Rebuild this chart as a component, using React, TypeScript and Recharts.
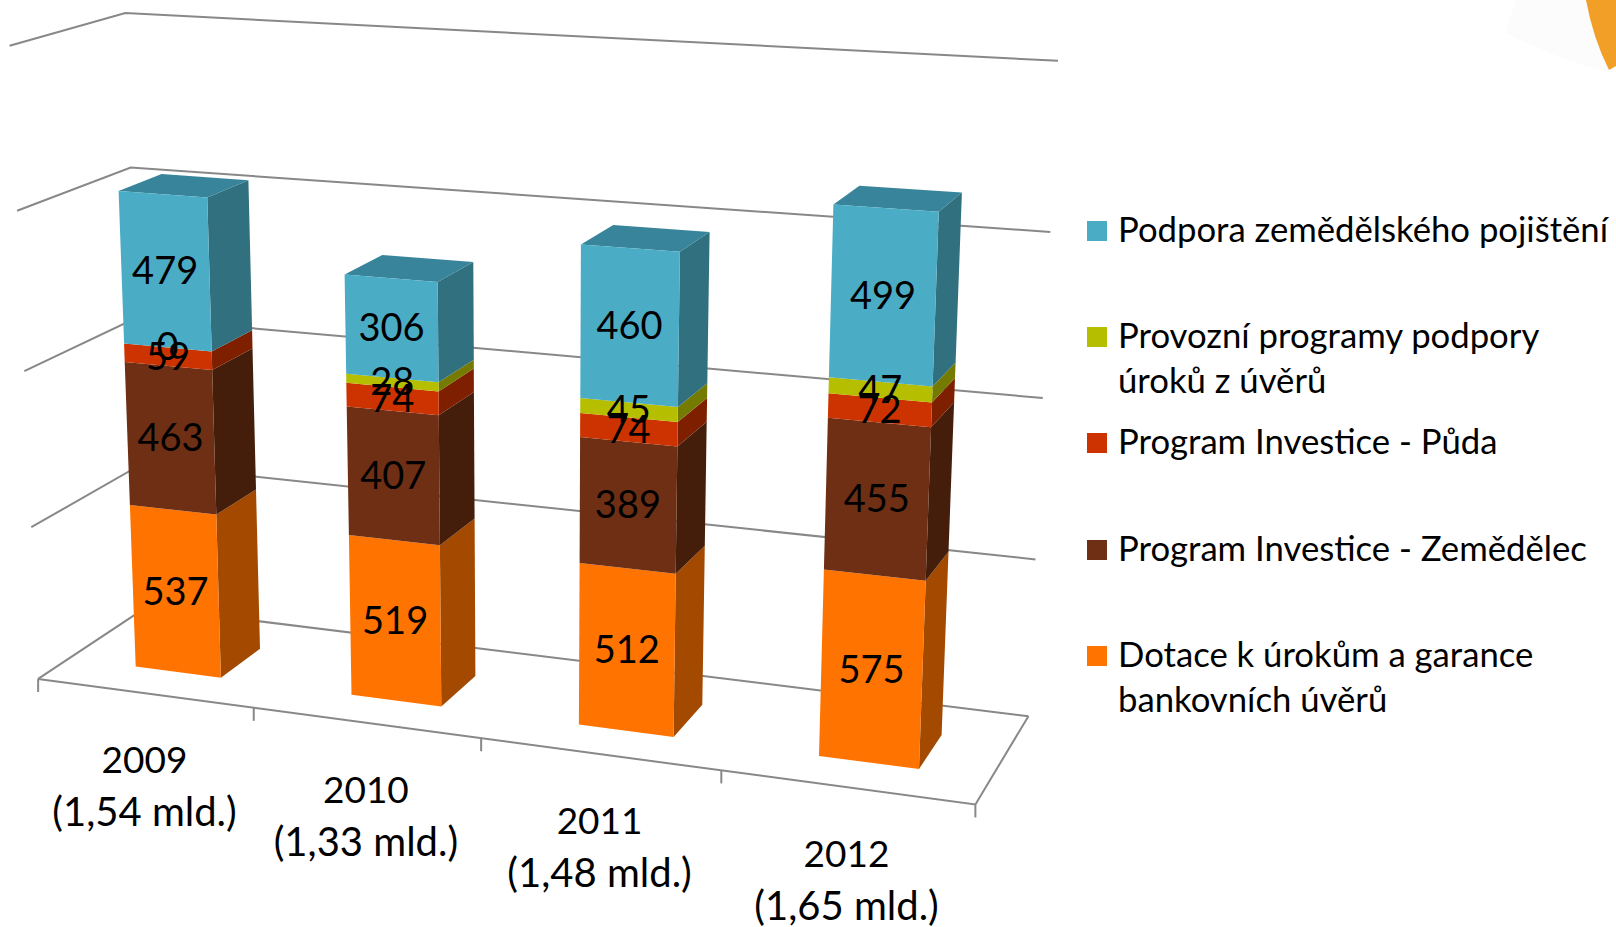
import { BarChart, Bar, XAxis, YAxis, ReferenceLine, Legend, LabelList } from 'recharts';

const WIDTH = 1616;
const HEIGHT = 927;
const FONT = 'Lato, sans-serif';

const categories = ['2009', '2010', '2011', '2012'];
const totals = ['(1,54 mld.)', '(1,33 mld.)', '(1,48 mld.)', '(1,65 mld.)'];

const dotace = [537, 519, 512, 575];
const zemedelec = [463, 407, 389, 455];
const puda = [59, 74, 74, 72];
const provozni = [0, 28, 45, 47];
const pojisteni = [479, 306, 460, 499];

const gridValues = [0, 500, 1000, 1500, 2000];

const data = categories.map((year, i) => ({
  year,
  dotace: dotace[i],
  zemedelec: zemedelec[i],
  puda: puda[i],
  provozni: provozni[i],
  pojisteni: pojisteni[i],
}));

const series = [
  { key: 'dotace', name: 'Dotace k úrokům a garance\nbankovních úvěrů', front: '#ff7300', side: '#a34a00' },
  { key: 'zemedelec', name: 'Program Investice - Zemědělec', front: '#6e2f15', side: '#441e0b' },
  { key: 'puda', name: 'Program Investice - Půda', front: '#cc3300', side: '#7e2000' },
  { key: 'provozni', name: 'Provozní programy podpory\núroků z úvěrů', front: '#b5bf00', side: '#757b00' },
  { key: 'pojisteni', name: 'Podpora zemědělského pojištění', front: '#4bacc6', side: '#31707f', top: '#38859b' },
];

const legendTops = [646, 540, 433, 327, 221];

// The 3D look: (u, v, d) in 0..1 goes to the screen through one projection,
// fitted by least squares to where the box corners sit in the picture.
const calibration: number[][] = [
  [0, 1, 0, 10, 45],
  [0, 1, 1, 126, 13],
  [1, 1, 1, 1057, 61],
  [0, 0, 0, 38, 679],
  [1, 0, 0, 975, 806],
  [1, 0, 1, 1028, 716],
  [0, 0.75, 0, 17, 211],
  [0, 0.75, 1, 130, 168],
  [1, 0.75, 1, 1051, 232],
  [1, 0.5, 1, 1043, 397],
  [1, 0.25, 1, 1036, 560],
  [0, 0.5, 0, 24, 372],
  [0, 0.25, 0, 31, 528],
  [0.25, 0, 0, 254, 707],
  [0.5, 0, 0, 482, 737],
  [0.75, 0, 0, 721, 770],
];

function fitProjection() {
  const A: number[][] = Array.from({ length: 11 }, () => new Array(12).fill(0));
  const add = (row: number[], rhs: number) => {
    for (let i = 0; i < 11; i++) {
      for (let j = 0; j < 11; j++) A[i][j] += row[i] * row[j];
      A[i][11] += row[i] * rhs;
    }
  };
  calibration.forEach(([u, v, d, px, py]) => {
    const x = px / 1000;
    const y = py / 1000;
    add([u, v, d, 1, 0, 0, 0, 0, -x * u, -x * v, -x * d], x);
    add([0, 0, 0, 0, u, v, d, 1, -y * u, -y * v, -y * d], y);
  });
  for (let c = 0; c < 11; c++) {
    let best = c;
    for (let r = c + 1; r < 11; r++) if (Math.abs(A[r][c]) > Math.abs(A[best][c])) best = r;
    [A[c], A[best]] = [A[best], A[c]];
    for (let r = 0; r < 11; r++) {
      if (r === c) continue;
      const f = A[r][c] / A[c][c];
      for (let k = c; k < 12; k++) A[r][k] -= f * A[c][k];
    }
  }
  return A.map((row, i) => row[11] / row[i]);
}

const M = fitProjection();

function project(u: number, v: number, d: number): [number, number] {
  const w = M[8] * u + M[9] * v + M[10] * d + 1;
  return [
    (1000 * (M[0] * u + M[1] * v + M[2] * d + M[3])) / w,
    (1000 * (M[4] * u + M[5] * v + M[6] * d + M[7])) / w,
  ];
}

const toPoints = (pts: [number, number][]) => pts.map((p) => `${p[0].toFixed(1)},${p[1].toFixed(1)}`).join(' ');

const BAR_FRONT = 0.28;
const BAR_BACK = 0.67;
const BAR_SHIFT = 0.004;

const makeBox = (front: string, side: string, top?: string) => (props: any) => {
  const { x, y, width, height } = props;
  const u0 = x / WIDTH + BAR_SHIFT;
  const u1 = (x + width) / WIDTH + BAR_SHIFT;
  const v0 = 1 - (y + height) / HEIGHT;
  const v1 = 1 - y / HEIGHT;
  return (
    <g>
      <polygon
        points={toPoints([project(u1, v0, BAR_FRONT), project(u1, v1, BAR_FRONT), project(u1, v1, BAR_BACK), project(u1, v0, BAR_BACK)])}
        fill={side}
      />
      {top && (
        <polygon
          points={toPoints([project(u0, v1, BAR_FRONT), project(u1, v1, BAR_FRONT), project(u1, v1, BAR_BACK), project(u0, v1, BAR_BACK)])}
          fill={top}
        />
      )}
      <polygon
        points={toPoints([project(u0, v0, BAR_FRONT), project(u1, v0, BAR_FRONT), project(u1, v1, BAR_FRONT), project(u0, v1, BAR_FRONT)])}
        fill={front}
      />
    </g>
  );
};

const barLabel = (props: any) => {
  const box = props.viewBox ?? props;
  const u = (box.x + box.width / 2) / WIDTH + BAR_SHIFT;
  const v = 1 - (box.y + box.height / 2) / HEIGHT;
  const [px, py] = project(u, v, BAR_FRONT);
  return (
    <text x={px} y={py - 2} textAnchor="middle" dominantBaseline="central" fontSize={38} fontFamily={FONT} fill="#000">
      {props.value}
    </text>
  );
};

const gridLine = (props: any) => {
  const v = 1 - props.y1 / HEIGHT;
  const line = toPoints([project(0, v, 0), project(0, v, 1), project(1, v, 1)]);
  return (
    <g>
      <polyline points={line} fill="none" stroke="#888888" strokeWidth={2} />
      {v < 0.001 && (
        <>
          <polyline points={toPoints([project(0, 0, 0), project(1, 0, 0), project(1, 0, 1)])} fill="none" stroke="#888888" strokeWidth={2} />
          {[0, 1, 2, 3, 4].map((i) => {
            const [tx, ty] = project(i / categories.length, 0, 0);
            return <line key={i} x1={tx} y1={ty} x2={tx} y2={ty + 13} stroke="#888888" strokeWidth={2} />;
          })}
        </>
      )}
    </g>
  );
};

const YearTick = (props: any) => {
  const [px, py] = project(props.x / WIDTH, 0, 0);
  const i = categories.indexOf(props.payload.value);
  return (
    <text textAnchor="middle" fontFamily={FONT} fill="#000">
      <tspan x={px} y={py + 80} fontSize={37}>{props.payload.value}</tspan>
      <tspan x={px} y={py + 133} fontSize={40}>{totals[i]}</tspan>
    </text>
  );
};

const LegendBlock = () => (
  <div style={{ position: 'relative', fontFamily: FONT, fontSize: 34.7, lineHeight: '45px', color: '#000' }}>
    {series.map((s, i) => (
      <div key={s.key} style={{ position: 'absolute', left: 0, top: legendTops[i], whiteSpace: 'pre-line' }}>
        <div style={{ position: 'absolute', left: 0, top: 0, width: 20, height: 20, background: s.front }} />
        <div style={{ position: 'absolute', left: 31, top: -15, width: 520 }}>{s.name}</div>
      </div>
    ))}
  </div>
);

export default function App() {
  return (
    <div style={{ position: 'absolute', left: 0, top: 0, width: WIDTH, height: HEIGHT, overflow: 'hidden', background: '#fff' }}>
      <svg width={WIDTH} height={HEIGHT} style={{ position: 'absolute', left: 0, top: 0 }}>
        <path d="M1516,0 L1505,33 Q1560,60 1609,72 L1586,0 Z" fill="#fcfcfc" />
        <path d="M1586,0 Q1593,38 1609,70 L1616,66 L1616,0 Z" fill="#f29f27" />
      </svg>
      <div style={{ position: 'absolute', left: 0, top: 0 }}>
        <BarChart
          width={WIDTH}
          height={HEIGHT + 1}
          data={data}
          barCategoryGap="30%"
          margin={{ top: 0, right: 0, bottom: 0, left: 0 }}
        >
          <XAxis dataKey="year" axisLine={false} tickLine={false} height={1} interval={0} tick={<YearTick />} />
          <YAxis hide width={0} domain={[0, 2000]} ticks={gridValues} />
          {gridValues.map((v) => (
            <ReferenceLine key={v} y={v} shape={gridLine} zIndex={-100} />
          ))}
          {series.map((s) => (
            <Bar
              key={s.key}
              dataKey={s.key}
              name={s.name}
              stackId="a"
              fill={s.front}
              isAnimationActive={false}
              shape={makeBox(s.front, s.side, s.top)}
            >
              <LabelList dataKey={s.key} content={barLabel} />
            </Bar>
          ))}
          <Legend
            layout="vertical"
            align="center"
            verticalAlign="middle"
            content={<LegendBlock />}
            wrapperStyle={{ position: 'absolute', left: 1087, top: 0, width: 529, height: 0 }}
          />
        </BarChart>
      </div>
    </div>
  );
}
